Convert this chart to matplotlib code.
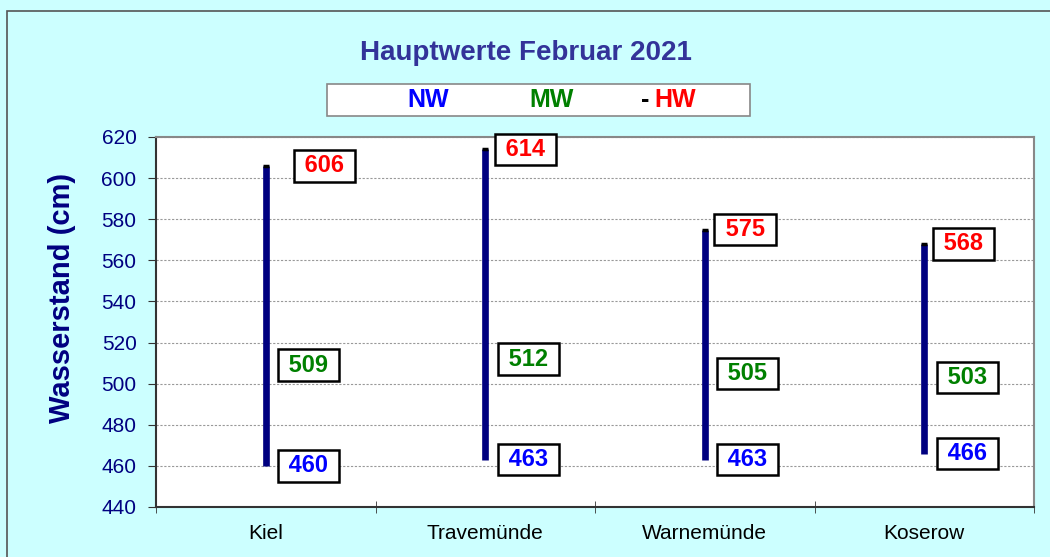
import matplotlib
matplotlib.use("Agg")
import matplotlib.pyplot as plt
from matplotlib.patches import Rectangle

plt.rcParams['font.family'] = ['Liberation Sans', 'DejaVu Sans']

stations = ['Kiel', 'Travemünde', 'Warnemünde', 'Koserow']
nw = [460, 463, 463, 466]
mw = [509, 512, 505, 503]
hw = [606, 614, 575, 568]
legend_labels = ['NW', 'MW', 'HW']
yticks = [440, 460, 480, 500, 520, 540, 560, 580, 600, 620]

bg = '#CCFFFF'
navy = '#000080'
c_nw = '#0000FF'
c_mw = '#008000'
c_hw = '#FF0000'

fig = plt.figure(figsize=(10.5, 5.57), dpi=100)
fig.patch.set_facecolor(bg)

# outer chart border
fig.patches.append(Rectangle((7 / 1050, -0.05), 1.1, 1 - 11 / 557 + 0.05,
                             transform=fig.transFigure, fill=False,
                             edgecolor='#555555', lw=1.2))

ax = fig.add_axes([156 / 1050, 50 / 557, 878 / 1050, 370 / 557])
ax.set_facecolor('white')

x = list(range(len(stations)))
ax.vlines(x, nw, hw, color=navy, lw=4.8, zorder=3)
ax.plot(x, hw, ls='none', marker='_', color='black', ms=5, mew=2.5, zorder=4)

box = dict(boxstyle='square,pad=0.18', fc='white', ec='black', lw=1.8)
hw_off = [42, 29, 29, 28]
for i in x:
    ax.annotate(' %d ' % hw[i], (i, hw[i]), xytext=(hw_off[i], 0), textcoords='offset points',
                ha='center', va='center', fontsize=17, fontweight='bold', color=c_hw, bbox=box, zorder=5)
    ax.annotate(' %d ' % mw[i], (i, mw[i]), xytext=(31, 0), textcoords='offset points',
                ha='center', va='center', fontsize=17, fontweight='bold', color=c_mw, bbox=box, zorder=5)
    ax.annotate(' %d ' % nw[i], (i, nw[i]), xytext=(31, 0), textcoords='offset points',
                ha='center', va='center', fontsize=17, fontweight='bold', color=c_nw, bbox=box, zorder=5)

ax.set_xlim(-0.5, len(stations) - 0.5)
ax.set_ylim(440, 620)
ax.set_yticks(yticks)
ax.set_yticklabels([str(v) for v in yticks], color=navy, fontsize=15)
ax.set_xticks(x)
ax.set_xticklabels(stations, fontsize=15, color='black')
ax.tick_params(axis='x', length=0, pad=12)
ax.set_xticks([i - 0.5 for i in range(len(stations) + 1)], minor=True)
ax.tick_params(axis='x', which='minor', direction='inout', length=9, color='#333333')
ax.tick_params(axis='y', direction='out', length=6, color='#333333', pad=8)

ax.grid(axis='y', ls=(0, (2, 1.5)), color='#999999', lw=0.8)
ax.set_axisbelow(True)
for s in ['left', 'bottom']:
    ax.spines[s].set_color('#333333')
    ax.spines[s].set_linewidth(1.5)
for s in ['top', 'right']:
    ax.spines[s].set_color('#888888')
    ax.spines[s].set_linewidth(1.5)

ax.set_ylabel('Wasserstand (cm)', fontsize=21, fontweight='bold', color=navy)
ax.yaxis.set_label_coords(-0.091, 0.565)

fig.text(526 / 1050, 1 - 53 / 557, 'Hauptwerte Februar 2021', ha='center', va='center',
         fontsize=20, fontweight='bold', color='#333399')

# legend box
fig.patches.append(Rectangle((327 / 1050, 1 - 116 / 557), 423 / 1050, 32 / 557,
                             transform=fig.transFigure, fc='white', ec='#888888', lw=1.2))
ly = 1 - 100 / 557
fig.text(428 / 1050, ly, legend_labels[0], ha='center', va='center', fontsize=18,
         fontweight='bold', color=c_nw)
fig.text(552 / 1050, ly, legend_labels[1], ha='center', va='center', fontsize=18,
         fontweight='bold', color=c_mw)
fig.text(645 / 1050, ly, '-', ha='center', va='center', fontsize=18,
         fontweight='bold', color='black')
fig.text(675 / 1050, ly, legend_labels[2], ha='center', va='center', fontsize=18,
         fontweight='bold', color=c_hw)

fig.savefig('out.png', dpi=100, facecolor=bg)
